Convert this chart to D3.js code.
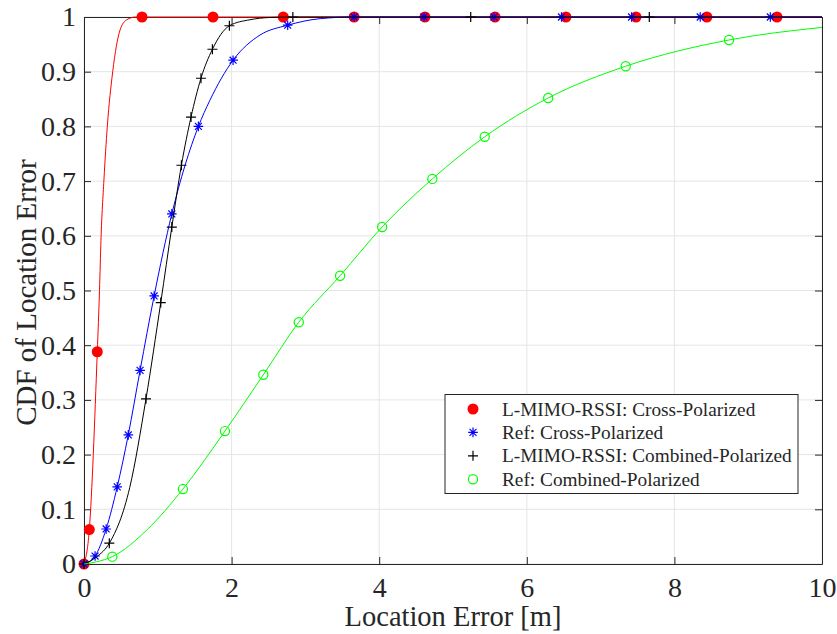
<!DOCTYPE html>
<html><head><meta charset="utf-8">
<script src="https://cdn.jsdelivr.net/npm/d3@7"></script>
<style>body{margin:0;background:#fff}svg{display:block}text{font-family:"Liberation Serif","Times New Roman",serif;fill:#262626}</style>
</head><body><svg id="c" width="837" height="634"></svg>
<script>
const xTicks=[0,2,4,6,8,10];
const yTicks=[0,0.1,0.2,0.3,0.4,0.5,0.6,0.7,0.8,0.9,1];
const seriesNames=["L-MIMO-RSSI: Cross-Polarized","Ref: Cross-Polarized","L-MIMO-RSSI: Combined-Polarized","Ref: Combined-Polarized"];
const seriesColors=["#ff0000","#0000ff","#000000","#00ff00"];
// line data (x, cdf)
const redLine=[[0,0],[0.072,0.063],[0.18,0.388],[0.21,0.5],[0.23,0.592],[0.27,0.702],[0.316,0.80],[0.389,0.90],[0.488,0.976],[0.58,0.995],[0.7,1],[10,1]];
const blueLine=[[0,0],[0.15,0.0146],[0.30,0.064],[0.45,0.141],[0.60,0.236],[0.76,0.354],[0.95,0.49],[1.19,0.64],[1.55,0.80],[1.707,0.848],[2.02,0.921],[2.385,0.967],[2.76,0.985],[3.2,0.997],[3.66,1],[10,1]];
const blackLine=[[0,0],[0.17,0.013],[0.343,0.038],[0.62,0.14],[0.84,0.302],[1.04,0.478],[1.19,0.616],[1.32,0.729],[1.45,0.817],[1.585,0.888],[1.74,0.941],[1.97,0.984],[2.25,0.995],[2.5,0.999],[2.83,1],[10,1]];
const greenLine=[[0,0],[0.17,0.004],[0.384,0.0134],[0.85,0.062],[1.34,0.137],[1.91,0.243],[2.43,0.346],[2.91,0.442],[3.47,0.527],[4.04,0.616],[4.72,0.704],[5.43,0.781],[6.29,0.852],[7.34,0.910],[8.74,0.958],[10,0.981]];
// marker positions
const redMarks=[[0,0],[0.072,0.063],[0.18,0.388],[0.786,1],[1.748,1],[2.70,1],[3.66,1],[4.62,1],[5.57,1],[6.53,1],[7.48,1],[8.44,1],[9.39,1]];
const blueMarks=[[0,0],[0.15,0.0146],[0.30,0.064],[0.45,0.141],[0.60,0.236],[0.76,0.354],[0.95,0.49],[1.19,0.64],[1.55,0.80],[2.02,0.921],[2.76,0.985],[3.66,1],[4.607,1],[5.556,1],[6.47,1],[7.42,1],[8.35,1],[9.30,1]];
const blackMarks=[[0,0],[0.343,0.038],[0.84,0.302],[1.04,0.478],[1.19,0.616],[1.32,0.729],[1.45,0.817],[1.585,0.888],[1.74,0.941],[1.97,0.984],[2.83,1],[5.24,1],[7.66,1]];
const greenMarks=[[0.384,0.0134],[1.34,0.137],[1.91,0.243],[2.43,0.346],[2.91,0.442],[3.47,0.527],[4.04,0.616],[4.72,0.704],[5.43,0.781],[6.29,0.852],[7.34,0.910],[8.74,0.958]];

const W=837,H=634,m={l:84,r:15,t:17,b:70};
const FONT='"Liberation Serif","Times New Roman",serif';
const svg=d3.select("#c");
const x=d3.scaleLinear().domain([0,10]).range([m.l,W-m.r]);
const y=d3.scaleLinear().domain([0,1]).range([H-m.b,m.t]);
const axc="#262626";
// grid
const g=svg.append("g");
g.selectAll(".gx").data(xTicks).join("line").attr("x1",d=>x(d)).attr("x2",d=>x(d)).attr("y1",y(0)).attr("y2",y(1)).attr("stroke","#e5e5e5").attr("stroke-width",1);
g.selectAll(".gy").data(yTicks).join("line").attr("y1",d=>y(d)).attr("y2",d=>y(d)).attr("x1",x(0)).attr("x2",x(10)).attr("stroke","#e5e5e5").attr("stroke-width",1);
// axes
const fmtY=d=>d===0?"0":d===1?"1":d3.format(".1f")(d);
const ax=d3.axisBottom(x).tickValues(xTicks).tickSizeInner(-7).tickSizeOuter(0).tickPadding(13);
const ay=d3.axisLeft(y).tickValues(yTicks).tickFormat(fmtY).tickSizeInner(-7).tickSizeOuter(0).tickPadding(8);
const axT=d3.axisTop(x).tickValues(xTicks).tickSizeInner(-7).tickSizeOuter(0).tickFormat("");
const ayR=d3.axisRight(y).tickValues(yTicks).tickSizeInner(-7).tickSizeOuter(0).tickFormat("");
function style(sel){sel.attr("font-family",null).attr("font-size",null);sel.select(".domain").attr("stroke",axc);sel.selectAll(".tick line").attr("stroke",axc);sel.selectAll("text").style("font-family",FONT).style("font-size","28px").attr("fill",axc);}
svg.append("g").attr("transform",`translate(0,${y(0)})`).call(ax).call(style);
svg.append("g").attr("transform",`translate(${x(0)},0)`).call(ay).call(style);
svg.append("g").attr("transform",`translate(0,${y(1)})`).call(axT).call(style);
svg.append("g").attr("transform",`translate(${x(10)},0)`).call(ayR).call(style);
// lines
const line=d3.line().x(d=>x(d[0])).y(d=>y(d[1])).curve(d3.curveMonotoneX);
const lines=[redLine,blueLine,blackLine,greenLine];
const marks=[redMarks,blueMarks,blackMarks,greenMarks];
const pg=svg.append("g");
function drawMarker(sel,i){
  if(i===0){sel.append("circle").attr("r",5.5).attr("fill",seriesColors[0]);}
  else if(i===1){const s=4.8,c=s*0.72;sel.append("path").attr("d",`M${-s},0H${s}M0,${-s}V${s}M${-c},${-c}L${c},${c}M${-c},${c}L${c},${-c}`).attr("stroke",seriesColors[1]).attr("stroke-width",1.2).attr("fill","none");}
  else if(i===2){const s=5;sel.append("path").attr("d",`M${-s},0H${s}M0,${-s}V${s}`).attr("stroke",seriesColors[2]).attr("stroke-width",1.2);}
  else {sel.append("circle").attr("r",4.6).attr("fill","none").attr("stroke",seriesColors[3]).attr("stroke-width",1.2);}
}
lines.forEach((ld,i)=>{
  pg.append("path").datum(ld).attr("d",line).attr("fill","none").attr("stroke",seriesColors[i]).attr("stroke-width",1);
  marks[i].forEach(p=>{const mg=pg.append("g").attr("transform",`translate(${x(p[0])},${y(p[1])})`);drawMarker(mg,i);});
});
// labels
svg.append("text").attr("x",(x(0)+x(10))/2).attr("y",626).attr("text-anchor","middle").style("font-size","28.5px").text("Location Error [m]");
svg.append("text").attr("transform",`translate(36,${(y(0)+y(1))/2+2}) rotate(-90)`).attr("text-anchor","middle").style("font-size","29px").text("CDF of Location Error");
// legend
const lg=svg.append("g");
lg.append("rect").attr("x",445).attr("y",394.5).attr("width",353).attr("height",99).attr("fill","#fff").attr("stroke","#262626").attr("stroke-width",1);
seriesNames.forEach((n,i)=>{
  const yy=409+i*23.4;
  const mg=lg.append("g").attr("transform",`translate(473,${yy})`);drawMarker(mg,i);
  lg.append("text").attr("x",502).attr("y",yy+6.5).style("font-size","19.3px").text(n);
});
</script></body></html>
